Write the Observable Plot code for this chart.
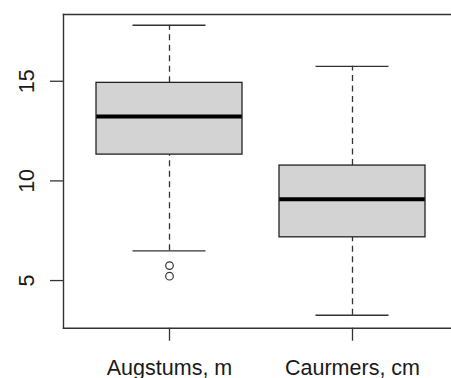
<!DOCTYPE html>
<html>
<head>
<meta charset="utf-8">
<script src="https://cdn.jsdelivr.net/npm/d3@7"></script>
<script src="https://cdn.jsdelivr.net/npm/@observablehq/plot@0.6"></script>
<style>
  html, body { margin: 0; padding: 0; background: #fff; overflow: hidden; }
  svg { display: block; }
</style>
</head>
<body>
<div id="chart"></div>
<script>
const categories = ["Augstums, m", "Caurmers, cm"];
const lowerWhisker = [6.49, 3.26];
const q1 = [11.32, 7.17];
const median = [13.23, 9.08];
const q3 = [14.92, 10.77];
const upperWhisker = [17.81, 15.75];
const outlierCategory = ["Augstums, m", "Augstums, m"];
const outlierValue = [5.75, 5.22];
const yTicks = [5, 10, 15];

const boxes = categories.map((c, i) => ({
  cat: c, lo: lowerWhisker[i], q1: q1[i], med: median[i], q3: q3[i], hi: upperWhisker[i]
}));
const outliers = outlierValue.map((v, i) => ({cat: outlierCategory[i], v}));

const font = "'Liberation Sans', Arial, sans-serif";
const ink = "#1a1a1a";

const chart = Plot.plot({
  width: 451,
  height: 378,
  marginLeft: 63,
  marginRight: 0,
  marginTop: 14,
  marginBottom: 50.3,
  style: {fontFamily: font, background: "#fff", color: ink},
  x: {domain: categories, range: [63, 458.5], paddingInner: 0.2, paddingOuter: 0.18, label: null},
  y: {domain: [2.61, 18.35], label: null},
  marks: [
    // whiskers
    Plot.ruleX(boxes, {x: "cat", y1: "q3", y2: "hi", stroke: "#333", strokeWidth: 1.3, strokeDasharray: "6,4.5"}),
    Plot.ruleX(boxes, {x: "cat", y1: "lo", y2: "q1", stroke: "#333", strokeWidth: 1.3, strokeDasharray: "6,4.5"}),
    Plot.tickY(boxes, {x: "cat", y: "hi", stroke: "#333", strokeWidth: 1.3, insetLeft: 36.5, insetRight: 36.5}),
    Plot.tickY(boxes, {x: "cat", y: "lo", stroke: "#333", strokeWidth: 1.3, insetLeft: 36.5, insetRight: 36.5}),
    // box fill
    Plot.barY(boxes, {x: "cat", y1: "q1", y2: "q3", fill: "#d3d3d3"}),
    // median
    Plot.tickY(boxes, {x: "cat", y: "med", stroke: "#000", strokeWidth: 4}),
    // box outline
    Plot.barY(boxes, {x: "cat", y1: "q1", y2: "q3", fill: "none", stroke: "#222", strokeWidth: 1.3}),
    // outliers
    Plot.dot(outliers, {x: "cat", y: "v", r: 3.8, stroke: "#333", strokeWidth: 1.2, fill: "none"}),
    // frame (right side cropped)
    Plot.frame({anchor: "top", stroke: "#333", strokeWidth: 1.4}),
    Plot.frame({anchor: "left", stroke: "#333", strokeWidth: 1.4}),
    Plot.frame({anchor: "bottom", stroke: "#333", strokeWidth: 1.4}),
    // axes
    Plot.axisY(yTicks, {tickSize: 13, tickPadding: 17, tickRotate: -90, fontSize: 21.5, stroke: "#333", strokeWidth: 1.3, fill: ink}),
    Plot.axisX({tickSize: 13, tickPadding: 18.6, fontSize: 21.5, stroke: "#333", strokeWidth: 1.3, fill: ink})
  ]
});
document.getElementById("chart").appendChild(chart);
</script>
</body>
</html>
